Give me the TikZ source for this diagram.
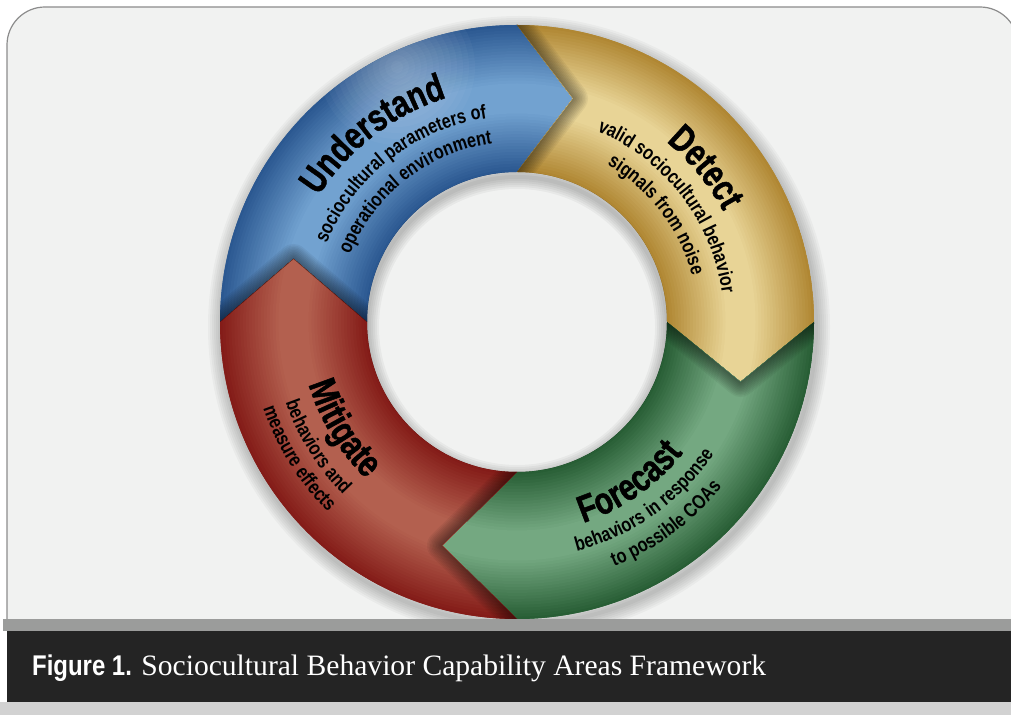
\documentclass[tikz,border=0pt]{standalone}
\usepackage{fontspec}
\setmainfont{Liberation Serif}
\newfontfamily\titleface{Liberation Sans}[FakeStretch=0.78,FakeBold=1.2]
\newfontfamily\subface{Liberation Sans}[FakeStretch=0.81]
\newfontfamily\figfont{Liberation Sans}[FakeStretch=0.84]
\usetikzlibrary{positioning,decorations.text}

\definecolor{panelbg}{HTML}{F1F2F1}
\definecolor{paneledge}{HTML}{8C8C8C}
\definecolor{stripgray}{HTML}{9B9C9B}
\definecolor{bardark}{HTML}{242424}
\definecolor{lowgray}{HTML}{D2D2D2}
\definecolor{blueedge}{HTML}{2B5891}
\definecolor{bluemid}{HTML}{72A2D0}
\definecolor{goldedge}{HTML}{B08733}
\definecolor{goldmid}{HTML}{E8D496}
\definecolor{greenedge}{HTML}{285E35}
\definecolor{greenmid}{HTML}{74A881}
\definecolor{rededge}{HTML}{841C18}
\definecolor{redmid}{HTML}{B3604F}

\newcommand{\ringtitle}{\titleface\bfseries\fontsize{38}{38}\selectfont}
\newcommand{\ringsub}{\subface\bfseries\fontsize{20}{20}\selectfont}

\newcommand{\bluepath}{(180:297) arc[start angle=180,end angle=90,radius=297] -- (56,223.5) -- (90:150) arc[start angle=90,end angle=180,radius=150] -- (-223.5,63) -- cycle}
\newcommand{\goldpath}{(90:297) arc[start angle=90,end angle=0,radius=297] -- (223.5,-60) -- (0:150) arc[start angle=0,end angle=90,radius=150] -- (56,223.5) -- cycle}
\newcommand{\greenpath}{(0:297) arc[start angle=0,end angle=-90,radius=297] -- (-75,-223.5) -- (-90:150) arc[start angle=-90,end angle=0,radius=150] -- (223.5,-60) -- cycle}
\newcommand{\redpath}{(-90:297) arc[start angle=-90,end angle=-180,radius=297] -- (-223.5,63) -- (180:150) arc[start angle=180,end angle=270,radius=150] -- (-75,-223.5) -- cycle}

\newcommand{\ringtube}[2]{%
  \foreach \i in {0,...,24}{%
    \pgfmathsetmacro{\w}{148-5.9*\i}%
    \pgfmathtruncatemacro{\k}{min(100,5*\i)}%
    \draw[line width=\w pt, color=#2!\k!#1] (0,0) circle (223.5);
  }}

\newcommand{\headshade}[2]{%
  \begin{scope}
    \clip #1;
    \foreach \w in {3,6,...,30} \draw[black, opacity=0.05, line width=\w pt, line join=round] #2;
  \end{scope}}

\begin{document}
\begin{tikzpicture}[x=1pt,y=1pt,
    ringtext/.style={decorate, decoration={text along path, text align=center, text={#1}}}]
\useasboundingbox (0,0) rectangle (1011,715);
\fill[white] (0,0) rectangle (1011,715);
\fill[panelbg, draw=paneledge, line width=1.2, rounded corners=38] (7,90) -- (7,708) -- (1018,708) -- (1018,90);

\begin{scope}[shift={(517,393)}]
  \foreach \w in {4,8,...,28} \draw[black, opacity=0.03, line width=\w pt] (2,-5) circle (297);

  \fill[blueedge] \bluepath;
  \begin{scope}
    \clip \bluepath;
    \ringtube{blueedge}{bluemid}
    \foreach \s in {6,12,...,78} \fill[white, opacity=0.03] (-120,255) circle (\s);
  \end{scope}
  \fill[goldedge] \goldpath;
  \begin{scope}
    \clip \goldpath;
    \ringtube{goldedge}{goldmid}
  \end{scope}
  \fill[greenedge] \greenpath;
  \begin{scope}
    \clip \greenpath;
    \ringtube{greenedge}{greenmid}
  \end{scope}
  \fill[rededge] \redpath;
  \begin{scope}
    \clip \redpath;
    \ringtube{rededge}{redmid}
  \end{scope}

  \headshade{\goldpath}{(0,297) -- (56,223.5) -- (0,150)}
  \headshade{\greenpath}{(297,0) -- (223.5,-60) -- (150,0)}
  \headshade{\redpath}{(0,-297) -- (-75,-223.5) -- (0,-150)}
  \headshade{\bluepath}{(-297,0) -- (-223.5,63) -- (-150,0)}

  \begin{scope}
    \clip (0,0) circle (150);
    \foreach \w in {4,8,...,24} \draw[black, opacity=0.04, line width=\w pt] (0,-5) circle (150);
  \end{scope}

  \path[ringtext={|\ringtitle|Understand}] (171.5:235) arc[start angle=171.5,end angle=83.5,radius=235];
  \path[ringtext={|\ringsub|sociocultural parameters of}] (172:206) arc[start angle=172,end angle=84,radius=206];
  \path[ringtext={|\ringsub|operational environment}] (172:180) arc[start angle=172,end angle=84,radius=180];

  \path[ringtext={|\ringtitle|Detect}] (83.3:234) arc[start angle=83.3,end angle=-4.7,radius=234];
  \path[ringtext={|\ringsub|valid sociocultural behavior}] (81.6:207) arc[start angle=81.6,end angle=-6.4,radius=207];
  \path[ringtext={|\ringsub|signals from noise}] (81.5:181) arc[start angle=81.5,end angle=-6.5,radius=181];

  \path[ringtext={|\ringtitle|Forecast}] (261:211.5) arc[start angle=261,end angle=349,radius=211.5];
  \path[ringtext={|\ringsub|behaviors in response}] (261.4:237) arc[start angle=261.4,end angle=349.4,radius=237];
  \path[ringtext={|\ringsub|to possible COAs}] (262.4:263) arc[start angle=262.4,end angle=350.4,radius=263];

  \path[ringtext={|\ringtitle|Mitigate}] (167.4:217.5) arc[start angle=167.4,end angle=255.4,radius=217.5];
  \path[ringtext={|\ringsub|behaviors and}] (168:245) arc[start angle=168,end angle=256,radius=245];
  \path[ringtext={|\ringsub|measure effects}] (168:268) arc[start angle=168,end angle=256,radius=268];
\end{scope}

\fill[stripgray] (3,84) rectangle (1011,96);
\fill[bardark] (7,13) rectangle (1011,84);
\fill[lowgray] (0,0) rectangle (1011,13);

\node[anchor=base west, inner sep=0, text=white, font=\figfont\bfseries\fontsize{28.5}{28.5}\selectfont] (fig) at (32,40) {Figure 1.};
\node[anchor=base west, inner sep=0, text=white, font=\fontsize{29.6}{29.6}\selectfont] (caption) at ([xshift=9]fig.base east) {Sociocultural Behavior Capability Areas Framework};
\end{tikzpicture}
\end{document}
